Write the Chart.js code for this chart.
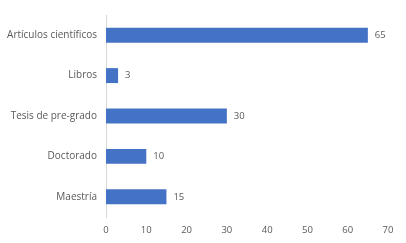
<!DOCTYPE html>
<html>
<head>
<meta charset="utf-8">
<script src="https://cdn.jsdelivr.net/npm/chart.js@4"></script>
<style>
  html, body { margin: 0; padding: 0; background: #fff; }
  #chart { display: block; }
</style>
</head>
<body>
<canvas id="chart" width="406" height="243"></canvas>
<script>
const categories = ['Artículos científicos', 'Libros', 'Tesis de pre-grado', 'Doctorado', 'Maestría'];
const values = [65, 3, 30, 10, 15];
const xTicks = [0, 10, 20, 30, 40, 50, 60, 70];

const textColor = '#595959';
const fontFamily = 'Open Sans, Liberation Sans, sans-serif';

// value labels to the right of each bar
const barLabels = {
    id: 'barLabels',
    afterDatasetsDraw(chart) {
        const ctx = chart.ctx;
        const meta = chart.getDatasetMeta(0);
        ctx.save();
        ctx.fillStyle = textColor;
        ctx.font = '9.5px ' + fontFamily;
        ctx.textAlign = 'left';
        ctx.textBaseline = 'middle';
        meta.data.forEach((bar, i) => {
            ctx.fillText(String(values[i]), bar.x + 7, bar.y);
        });
        ctx.restore();
    }
};

new Chart(document.getElementById('chart'), {
    type: 'bar',
    data: {
        labels: categories,
        datasets: [{
            data: values,
            backgroundColor: '#4472C4',
            barPercentage: 0.74,
            categoryPercentage: 0.5
        }]
    },
    options: {
        indexAxis: 'y',
        responsive: false,
        animation: false,
        layout: { padding: { top: 12, right: 18, bottom: 0, left: 0 } },
        plugins: {
            legend: { display: false },
            tooltip: { enabled: false }
        },
        scales: {
            x: {
                min: 0,
                max: 70,
                afterBuildTicks: axis => { axis.ticks = xTicks.map(v => ({ value: v })); },
                afterFit: axis => { axis.height = 26; },
                grid: { display: false, drawTicks: false },
                border: { display: false },
                ticks: { color: textColor, font: { size: 9.5, family: fontFamily }, padding: 8 }
            },
            y: {
                afterFit: axis => { axis.width = 106; },
                grid: { display: false, drawTicks: false },
                border: { color: '#d9d9d9', width: 1 },
                ticks: { color: textColor, font: { size: 10, family: fontFamily }, padding: 9 }
            }
        }
    },
    plugins: [barLabels]
});
</script>
</body>
</html>
